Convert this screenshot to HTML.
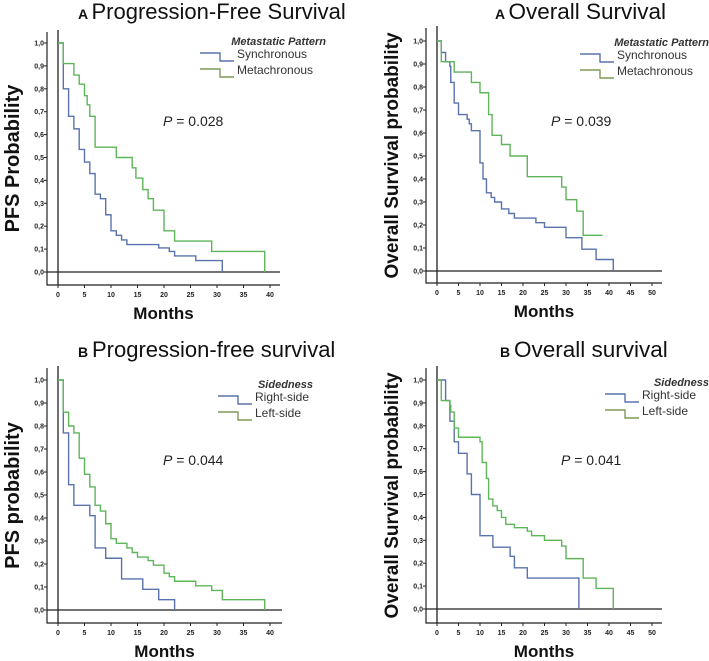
<!DOCTYPE html>
<html><head><meta charset="utf-8"><style>
html,body{margin:0;padding:0;background:#fff;}
svg{display:block;font-family:"Liberation Sans",sans-serif;}
</style></head><body>
<svg id="fig" width="709" height="661" viewBox="0 0 709 661"></svg>
<script>
const yTicks=[0,0.1,0.2,0.3,0.4,0.5,0.6,0.7,0.8,0.9,1.0];
const yTickLabels=["0,0","0,1","0,2","0,3","0,4","0,5","0,6","0,7","0,8","0,9","1,0"];
const xTicks40=[0,5,10,15,20,25,30,35,40];
const xTicks50=[0,5,10,15,20,25,30,35,40,45,50];
// Panel A PFS
const p1SyncT=[0,1,2,3,4,5,6,7,8,9,10,11,12,13,19,21,22,26,31];
const p1SyncS=[1,0.80,0.68,0.625,0.535,0.48,0.43,0.34,0.32,0.25,0.18,0.16,0.14,0.12,0.105,0.09,0.07,0.05,0];
const p1MetaT=[0,1,3,4,5,5.5,6,7,11,14,14.7,16,17,18,20,22,29,39];
const p1MetaS=[1,0.91,0.86,0.82,0.77,0.73,0.68,0.545,0.5,0.455,0.41,0.36,0.32,0.27,0.18,0.135,0.09,0];
// Panel A OS
const p2SyncT=[0,1,2,3,3.2,4,5,7,7.5,8,10,10.7,11.5,12.6,13.4,15,16.7,18,23,25,30,33.7,37,41];
const p2SyncS=[1,0.95,0.91,0.89,0.82,0.73,0.68,0.66,0.64,0.61,0.47,0.40,0.34,0.32,0.30,0.27,0.25,0.23,0.21,0.19,0.145,0.095,0.05,0];
const p2MetaT=[0,1,4,8,10,12,12.8,15,17,21,29,30,32.5,34];
const p2MetaS=[1,0.91,0.865,0.82,0.775,0.68,0.59,0.55,0.50,0.41,0.365,0.31,0.26,0.155];
const p2MetaEnd=38.5;
// Panel B PFS
const p3RightT=[0,1,2,3,6,7,9,12,16,19,22];
const p3RightS=[1,0.77,0.545,0.455,0.41,0.27,0.225,0.135,0.09,0.045,0];
const p3LeftT=[0,1,2,3,4,5,6,7,8,9,10,11,13,14,15,17,18,20,21,22,26,29,31,39];
const p3LeftS=[1,0.86,0.80,0.77,0.66,0.59,0.535,0.455,0.43,0.375,0.31,0.29,0.27,0.25,0.23,0.215,0.195,0.16,0.145,0.125,0.105,0.085,0.045,0];
// Panel B OS
const p4RightT=[0,2,3,4,5,7,8,10,13,17,18,21,33];
const p4RightS=[1,0.91,0.82,0.73,0.68,0.59,0.50,0.32,0.27,0.23,0.18,0.135,0];
const p4LeftT=[0,1,3,3.2,4,5,10,10.5,11.5,12,13,14,15,16,18,21,22,25,29,30,34,37,41];
const p4LeftS=[1,0.91,0.89,0.86,0.79,0.75,0.73,0.64,0.57,0.48,0.45,0.43,0.40,0.37,0.355,0.34,0.32,0.30,0.275,0.22,0.135,0.09,0];

const BLUE="#5a73ad",GREEN="#5fb55a",OLIVE="#7e9a55";
const svg=document.getElementById('fig');
const NS="http://www.w3.org/2000/svg";
function mk(tag,attrs,parent,text){const e=document.createElementNS(NS,tag);for(const k in attrs)e.setAttribute(k,attrs[k]);if(text!=null)e.textContent=text;(parent||svg).appendChild(e);return e;}

function stepPath(sx,sy,T,S,end){
  let d="M"+sx(T[0])+","+sy(S[0]);
  for(let i=1;i<T.length;i++){d+=" H"+sx(T[i])+" V"+sy(S[i]);}
  if(end!=null)d+=" H"+sx(end);
  return d;
}

function panel(c){
  const g=mk('g',{});
  
  
  const sx=m=>c.ox+m*c.ppm, sy=v=>c.y0-(c.y0-c.y1)*v;
  const ax=mk('path',{d:`M${c.fl},${c.ft} V${c.fb} H${c.fr}`,stroke:"#222","stroke-width":1.2,fill:"none"},g);
  
  const rv=mk('line',{x1:c.ox,y1:c.ft-2,x2:c.ox,y2:c.fb,stroke:"#222","stroke-width":1.3},g);
  
  const rh=mk('line',{x1:c.fl,y1:c.y0,x2:c.fr,y2:c.y0,stroke:"#222","stroke-width":1.3},g);
  
  yTicks.forEach((v,i)=>{
    mk('line',{x1:c.fl-3,y1:sy(v),x2:c.fl,y2:sy(v),stroke:"#222","stroke-width":1},g);
    const t=mk('text',{x:c.fl-3,y:sy(v)+2.5,"font-size":7,"font-weight":"bold","text-anchor":"end",fill:"#222"},g,yTickLabels[i]);
    
  });
  c.xt.forEach(m=>{
    mk('line',{x1:sx(m),y1:c.fb,x2:sx(m),y2:c.fb+3,stroke:"#222","stroke-width":1},g);
    const t=mk('text',{x:sx(m),y:c.fb+12,"font-size":7,"font-weight":"bold","text-anchor":"middle",fill:"#222"},g,String(m));
    
  });
  c.series.forEach(s=>{
    const p=mk('path',{d:stepPath(sx,sy,s.T,s.S,s.end),stroke:s.color,"stroke-width":1.4,fill:"none"},g);
    
  });
  const ti=mk('text',{x:c.tx,y:c.ty,"font-size":c.tsize,fill:"#111"},g);
  
  mk('tspan',{"font-size":14,"font-weight":"bold"},ti,c.letter+" ");
  mk('tspan',{},ti,c.title);
  const yt=mk('text',{x:0,y:0,"font-size":c.ytSize,"font-weight":"bold","text-anchor":"middle",fill:"#111",transform:`translate(${c.ytx},${(c.ft+c.fb)/2}) rotate(-90)`},g,c.ytitle);
  
  const xt=mk('text',{x:(c.fl+c.fr)/2,y:c.fb+34,"font-size":17,"font-weight":"bold","text-anchor":"middle",fill:"#111"},g,"Months");
  
  const lg=mk('g',{},g);
  const lt=mk('text',{x:c.lx+c.lhead,y:c.ly,"font-size":11,"font-weight":"bold","font-style":"italic",fill:"#333","text-anchor":"end"},lg,c.ltitle);
  
  c.series.forEach((s,i)=>{
    const y=c.ly+8+i*16;
    const lp=mk('path',{d:`M${c.lx},${y} H${c.lx+20} V${y+8} H${c.lx+34}`,stroke:s.lcolor,"stroke-width":1.4,fill:"none"},lg);
    
    const tx=mk('text',{x:c.lx+37,y:y+5,"font-size":12,fill:"#333"},lg,s.label);
    
  });
  const pv=mk('text',{x:c.px,y:c.py,"font-size":14,fill:"#222"},g);
  
  mk('tspan',{"font-style":"italic"},pv,"P");
  mk('tspan',{},pv," = "+c.p);
}

panel({name:'panel-a-pfs',ox:58,ppm:5.3,y1:43,y0:272,fl:47,fb:285,fr:280,ft:32,xt:xTicks40,
  letter:"A",title:"Progression-Free Survival",tx:78,ty:19,tsize:22,ytitle:"PFS Probability",ytx:19,ytSize:20,
  ltitle:"Metastatic Pattern",lx:200,ly:45,lhead:126,px:163,py:126,p:"0.028",
  series:[{name:'synchronous-curve',T:p1SyncT,S:p1SyncS,color:BLUE,lcolor:BLUE,label:"Synchronous"},
          {name:'metachronous-curve',T:p1MetaT,S:p1MetaS,color:GREEN,lcolor:OLIVE,label:"Metachronous"}]});
panel({name:'panel-a-os',ox:437,ppm:4.3,y1:41,y0:271,fl:426,fb:283,fr:662,ft:28,xt:xTicks50,
  letter:"A",title:"Overall Survival",tx:495,ty:19,tsize:22.5,ytitle:"Overall  Survival probability",ytx:398,ytSize:19,
  ltitle:"Metastatic Pattern",lx:580,ly:46,lhead:129,px:551,py:126,p:"0.039",
  series:[{name:'synchronous-curve',T:p2SyncT,S:p2SyncS,color:BLUE,lcolor:BLUE,label:"Synchronous"},
          {name:'metachronous-curve',T:p2MetaT,S:p2MetaS,end:p2MetaEnd,color:GREEN,lcolor:OLIVE,label:"Metachronous"}]});
panel({name:'panel-b-pfs',ox:58,ppm:5.3,y1:380,y0:610,fl:47,fb:623,fr:282,ft:368,xt:xTicks40,
  letter:"B",title:"Progression-free  survival",tx:78,ty:357,tsize:22,ytitle:"PFS probability",ytx:19,ytSize:20,
  ltitle:"Sidedness",lx:218,ly:388,lhead:95,px:163,py:465,p:"0.044",
  series:[{name:'right-side-curve',T:p3RightT,S:p3RightS,color:BLUE,lcolor:BLUE,label:"Right-side"},
          {name:'left-side-curve',T:p3LeftT,S:p3LeftS,color:GREEN,lcolor:OLIVE,label:"Left-side"}]});
panel({name:'panel-b-os',ox:437,ppm:4.3,y1:380,y0:609,fl:426,fb:623,fr:662,ft:368,xt:xTicks50,
  letter:"B",title:"Overall survival",tx:500,ty:357,tsize:22.5,ytitle:"Overall  Survival probability",ytx:398,ytSize:19,
  ltitle:"Sidedness",lx:605,ly:386,lhead:104,px:561,py:465,p:"0.041",
  series:[{name:'right-side-curve',T:p4RightT,S:p4RightS,color:BLUE,lcolor:BLUE,label:"Right-side"},
          {name:'left-side-curve',T:p4LeftT,S:p4LeftS,color:GREEN,lcolor:OLIVE,label:"Left-side"}]});
</script>
</body></html>
